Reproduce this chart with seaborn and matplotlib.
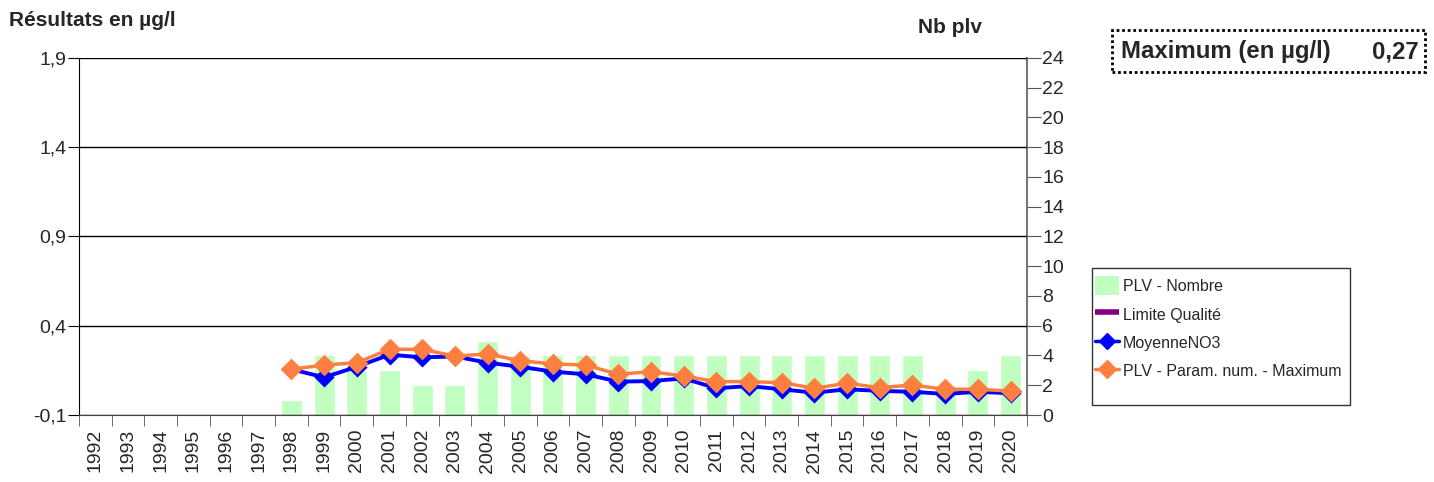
import numpy as np
import pandas as pd
import matplotlib
matplotlib.use("Agg")
import matplotlib.pyplot as plt
import seaborn as sns
from matplotlib.patches import Patch, Rectangle
from matplotlib.lines import Line2D
from matplotlib.ticker import FuncFormatter

# --- data ---
years = [str(y) for y in range(1992, 2021)]
years_mes = [str(y) for y in range(1998, 2021)]
nb_plv = [1, 4, 3, 3, 2, 2, 5, 4, 4, 4, 4, 4, 4, 4, 4, 4, 4, 4, 4, 4, 2, 3, 4]
moyenne = [0.156, 0.111, 0.17, 0.238, 0.223, 0.228, 0.193, 0.17, 0.143, 0.128,
           0.087, 0.09, 0.105, 0.05, 0.062, 0.044, 0.025, 0.044, 0.035, 0.03,
           0.018, 0.03, 0.022]
maximum = [0.156, 0.18, 0.193, 0.268, 0.268, 0.23, 0.242, 0.204, 0.186, 0.18,
           0.128, 0.143, 0.118, 0.087, 0.087, 0.081, 0.05, 0.078, 0.053, 0.068,
           0.044, 0.044, 0.034]
left_ticks = [-0.1, 0.4, 0.9, 1.4, 1.9]
right_ticks = list(range(0, 25, 2))
max_value = "0,27"

df = pd.DataFrame({"annee": years_mes, "nb": nb_plv,
                   "moyenne": moyenne, "maximum": maximum})

sns.set_style("white")
plt.rcParams['font.family'] = ['Liberation Sans', 'DejaVu Sans']

fig = plt.figure(figsize=(14.34, 4.82), dpi=100)
ax = fig.add_axes([0.0551, 0.139, 0.661, 0.7407])
ax2 = ax.twinx()

# bars on the right axis (behind)
sns.barplot(data=df, x="annee", y="nb", order=years, color="#C0FFC0",
            saturation=1, width=0.64, ax=ax2)
ax2.set_ylim(0, 24)
ax2.set_yticks(right_ticks)
ax2.set_ylabel("")

# lines on the left axis
sns.pointplot(data=df, x="annee", y="moyenne", order=years, color="#0000FF",
              markers="D", markersize=8, linewidth=2.8, errorbar=None, ax=ax)
sns.pointplot(data=df, x="annee", y="maximum", order=years, color="#FF7F40",
              markers="D", markersize=9.5, linewidth=2.5, errorbar=None, ax=ax)
ax.set_zorder(ax2.get_zorder() + 1)
ax.patch.set_visible(False)

ax.set_ylim(-0.1, 1.9)
ax.set_yticks(left_ticks)
ax.yaxis.set_major_formatter(FuncFormatter(lambda v, p: f"{v:.1f}".replace(".", ",")))
ax.yaxis.grid(True, color="black", lw=1)
ax.set_xlim(-0.5, len(years) - 0.5)
ax.set_xticks(range(len(years)))
ax.set_xticklabels(years, rotation=90)
ax.set_xticks(np.arange(len(years) + 1) - 0.5, minor=True)
ax.tick_params(axis='x', which='major', length=0, pad=10, labelsize=14)
ax.tick_params(axis='x', which='minor', length=8, color="#555555", bottom=True)
ax.tick_params(axis='y', which='major', length=8, color="black", left=True, labelsize=14, pad=1)
ax.set_xlabel("")
ax.set_ylabel("")
ax2.tick_params(axis='y', length=10, color="#555555", right=True, labelsize=14, pad=1)

for s in ["top", "right"]:
    ax.spines[s].set_visible(False)
ax.spines["left"].set_color("black")
ax.spines["bottom"].set_color("#444444")
ax2.spines["top"].set_visible(False)
ax2.spines["left"].set_visible(False)
ax2.spines["bottom"].set_visible(False)
ax2.spines["right"].set_color("#777777")
ax2.spines["right"].set_linewidth(1.5)

fig.text(0.006, 0.958, "Résultats en µg/l", fontsize=15, fontweight="bold", va="center")
fig.text(0.640, 0.942, "Nb plv", fontsize=15, fontweight="bold", va="center")

# maximum box
fig.patches.append(Rectangle((0.7755, 0.851), 0.218, 0.087, transform=fig.transFigure,
                             fill=False, ec="black", ls=(0, (1, 1)), lw=2))
fig.text(0.782, 0.893, "Maximum (en µg/l)", fontsize=17.3, fontweight="bold", va="center")
fig.text(0.989, 0.893, max_value, fontsize=17.3, fontweight="bold", va="center", ha="right")

handles = [
    Patch(facecolor="#C0FFC0", edgecolor="none"),
    Line2D([], [], color="#800080", lw=4, solid_capstyle="butt"),
    Line2D([], [], color="#0000FF", lw=2.5, marker="D", markersize=8),
    Line2D([], [], color="#FF7F40", lw=2.5, marker="D", markersize=9.5),
]
labels = ["PLV - Nombre", "Limite Qualité", "MoyenneNO3", "PLV - Param. num. - Maximum"]
fig.patches.append(Rectangle((0.7615, 0.16), 0.18, 0.284, transform=fig.transFigure,
                             fill=True, fc="white", ec="#333333", lw=1))
leg = fig.legend(handles, labels, loc="upper left", bbox_to_anchor=(0.7636, 0.4264),
                 frameon=False, fontsize=11.5, handlelength=1.5, handleheight=1.45,
                 handletextpad=0.25, labelspacing=0.59, borderaxespad=0, borderpad=0)

fig.savefig("out.png", dpi=100)
